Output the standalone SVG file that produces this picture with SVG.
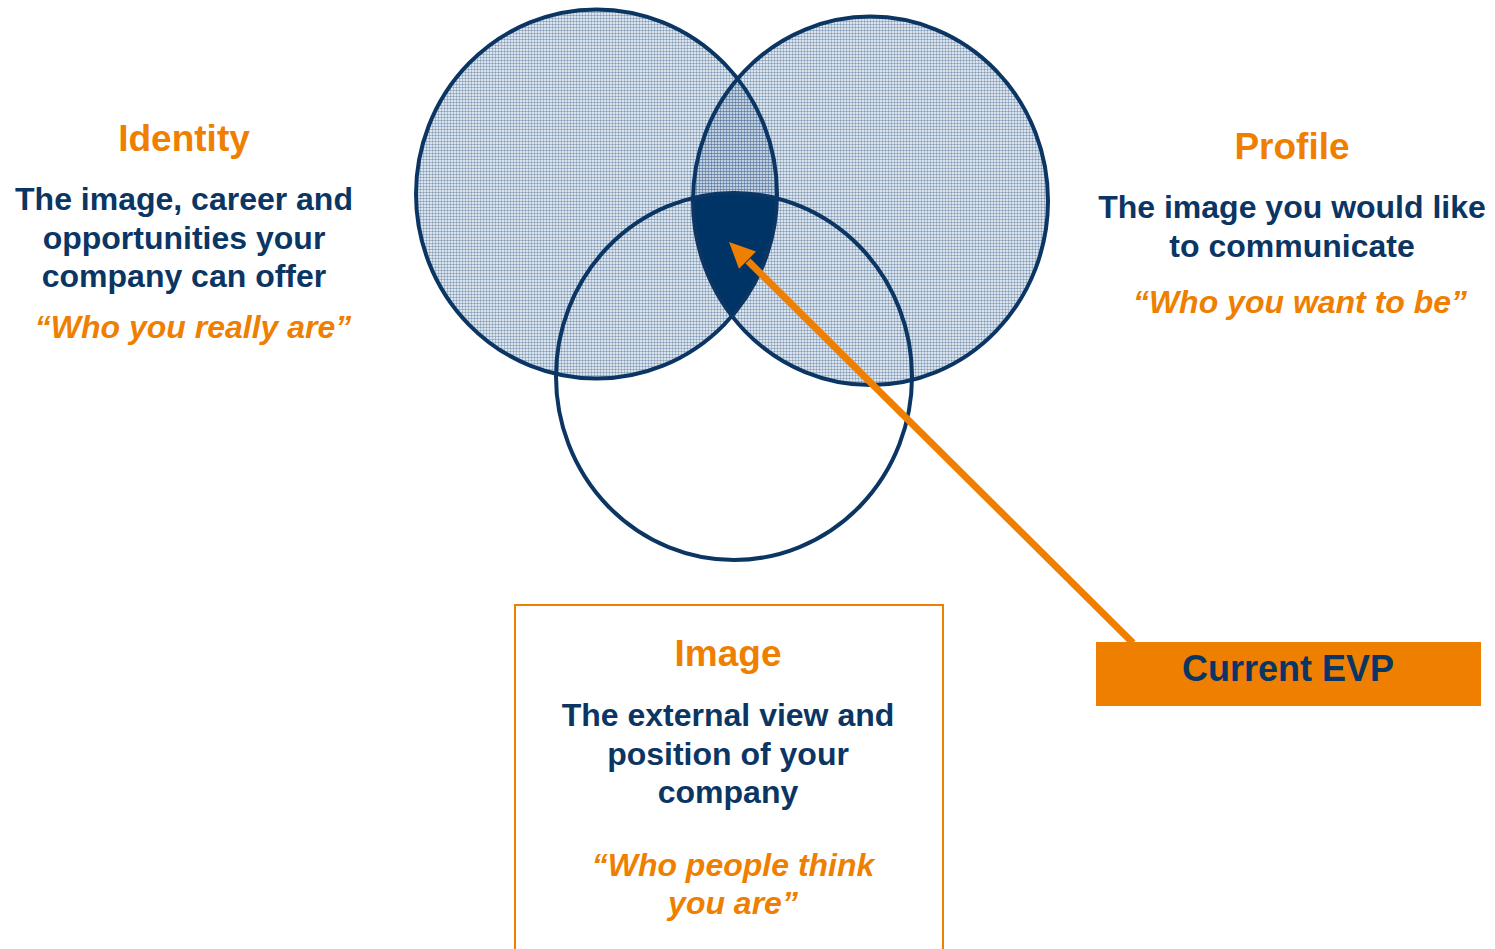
<svg xmlns="http://www.w3.org/2000/svg" width="1495" height="949" viewBox="0 0 1495 949">
<style>
.ring{fill:none;stroke:#0b3563;stroke-width:4}
.ttl{font-family:"Liberation Sans",Arial,sans-serif;font-weight:bold;font-size:37px;fill:#ef7f00;text-anchor:middle}
.body{font-family:"Liberation Sans",Arial,sans-serif;font-weight:bold;font-size:32px;fill:#0b3563;text-anchor:middle}
.quote{font-family:"Liberation Sans",Arial,sans-serif;font-weight:bold;font-style:italic;font-size:32px;fill:#ef7f00;text-anchor:middle}
</style>
<defs>
<pattern id="hatch" width="3" height="3" patternUnits="userSpaceOnUse">
<rect width="3" height="3" fill="#8aa2c2" fill-opacity="0.30"/>
<rect width="3" height="1" fill="#3d6390" fill-opacity="0.35"/>
<rect width="1" height="3" fill="#3d6390" fill-opacity="0.30"/>
</pattern>
<clipPath id="c1"><ellipse cx="596.5" cy="194" rx="180.5" ry="184.6"/></clipPath>
<clipPath id="c2"><ellipse cx="870.5" cy="200.8" rx="177.5" ry="184.2"/></clipPath>
</defs>
<rect width="1495" height="949" fill="#ffffff"/>
<g id="venn">
<g id="identity-circle"><ellipse cx="596.5" cy="194" rx="180.5" ry="184.6" fill="url(#hatch)"/></g>
<g id="profile-circle"><ellipse cx="870.5" cy="200.8" rx="177.5" ry="184.2" fill="url(#hatch)"/></g>
<g id="evp-core" clip-path="url(#c1)"><g clip-path="url(#c2)"><ellipse cx="734" cy="376.5" rx="178" ry="183.5" fill="#003366"/></g></g>
<ellipse class="ring" cx="596.5" cy="194" rx="180.5" ry="184.6"/>
<ellipse class="ring" cx="870.5" cy="200.8" rx="177.5" ry="184.2"/>
<g id="image-circle"><ellipse class="ring" cx="734" cy="376.5" rx="178" ry="183.5"/></g>
</g>
<g id="connectors">
<line x1="1133" y1="643" x2="748" y2="261" stroke="#ef7f00" stroke-width="7"/>
<polygon points="729,242 756,251.5 739,268.8" fill="#ef7f00"/>
</g>
<g id="identity">
<text class="ttl" x="184" y="151">Identity</text>
<text class="body" x="184" y="210">The image, career and</text>
<text class="body" x="184" y="249">opportunities your</text>
<text class="body" x="184" y="287">company can offer</text>
<text class="quote" x="193" y="338">“Who you really are”</text>
</g>
<g id="profile">
<text class="ttl" x="1292" y="159">Profile</text>
<text class="body" x="1292" y="218">The image you would like</text>
<text class="body" x="1292" y="257">to communicate</text>
<text class="quote" x="1300" y="313">“Who you want to be”</text>
</g>
<g id="image">
<rect x="515" y="605" width="428" height="360" fill="none" stroke="#ef7f00" stroke-width="2"/>
<text class="ttl" x="728" y="666">Image</text>
<text class="body" x="728" y="726">The external view and</text>
<text class="body" x="728" y="765">position of your</text>
<text class="body" x="728" y="803">company</text>
<text class="quote" x="733" y="876">“Who people think</text>
<text class="quote" x="733" y="914">you are”</text>
</g>
<g id="current-evp">
<rect x="1096" y="642" width="385" height="64" fill="#ef7f00"/>
<text class="body" x="1288" y="681" style="font-size:36px">Current EVP</text>
</g>
</svg>
